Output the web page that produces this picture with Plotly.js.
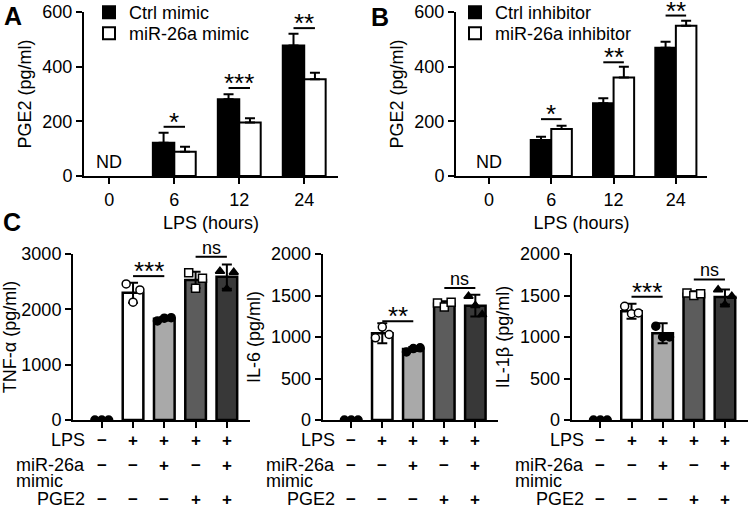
<!DOCTYPE html>
<html>
<head>
<meta charset="utf-8">
<script src="https://cdn.plot.ly/plotly-3.0.1.min.js"></script>
<style>
  body { margin: 0; background: #fff; }
  #fig { width: 749px; height: 512px; }
</style>
</head>
<body>
<div id="fig"></div>
<script>
// panel A / B : PGE2 over LPS time
const hours = ["0", "6", "12", "24"];
const ctrlMimic = [null, 122, 281, 477];
const ctrlMimicErr = [0, 36, 18, 43];
const mirMimic = [null, 89, 196, 354];
const mirMimicErr = [0, 18, 15, 24];
const ctrlInh = [null, 132, 266, 469];
const ctrlInhErr = [0, 12, 18, 22];
const mirInh = [null, 172, 360, 550];
const mirInhErr = [0, 12, 40, 18];

// significance marks (category index, level, text)
const sigAIdx = [1, 2, 3];
const sigAY = [180, 322, 541];
const sigAText = ["*", "***", "**"];
const sigBIdx = [1, 2, 3];
const sigBY = [208, 416, 587];
const sigBText = ["*", "**", "**"];

// panel C : cytokines, 5 groups
const lpsRow = ["−", "+", "+", "+", "+"];
const mimicRow = ["−", "−", "+", "−", "+"];
const pge2Row = ["−", "−", "−", "+", "+"];

const tnfMean = [0, 2300, 1830, 2530, 2590];
const tnfSd = [0, 180, 30, 150, 220];
const tnfPts = [[0, 0, 0], [2460, 2130, 2350], [1790, 1840, 1850], [2660, 2380, 2560], [2690, 2370, 2670]];
const il6Mean = [0, 1045, 855, 1400, 1378];
const il6Sd = [0, 120, 25, 30, 130];
const il6Pts = [[0, 0, 0], [990, 1120, 1030], [820, 860, 870], [1410, 1360, 1420], [1490, 1380, 1270]];
const il1Mean = [0, 1310, 1045, 1520, 1482];
const il1Sd = [0, 90, 120, 30, 90];
const il1Pts = [[0, 0, 0], [1370, 1280, 1290], [1130, 1000, 1000], [1530, 1500, 1520], [1570, 1390, 1490]];

const sigC1 = [2600, 2950];
const sigC2 = [1190, 1590];
const sigC3 = [1485, 1693];
const sigCText1 = ["***", "ns"];
const sigCText2 = ["**", "ns"];
const sigCText3 = ["***", "ns"];

const FONT = "Liberation Sans, Arial, sans-serif";
const W = 749, H = 512;
const px = (v) => v / W;
const py = (v) => 1 - v / H;

const barFill = ["#ffffff", "#a9a9a9", "#5c5c5c", "#383838"];
const ptSymbol = ["circle", "circle", "circle", "square", "triangle-up"];
const ptColor = ["#000", "#fff", "#000", "#fff", "#000"];
const jitter = [-0.22, 0, 0.22];
const halfBar = 0.165;

let traces = [];
let shapes = [];
let annotations = [];

function txt(size) {
	return { family: FONT, size: size, color: "#000" };
}

function barTrace(y, err, name, fill, xa, ya, legend) {
	return {
		type: "bar",
		x: hours.map((h, i) => i),
		y: y,
		name: name,
		xaxis: xa,
		yaxis: ya,
		legend: legend,
		marker: { color: fill, line: { color: "#000", width: 2 } },
		error_y: {
			type: "data",
			symmetric: false,
			array: err,
			arrayminus: err.map(() => 0),
			color: "#000",
			thickness: 2,
			width: 5,
		},
	};
}

traces.push(barTrace(ctrlMimic, ctrlMimicErr, "Ctrl mimic", "#000", "x", "y", "legend"));
traces.push(barTrace(mirMimic, mirMimicErr, "miR-26a mimic", "#fff", "x", "y", "legend2"));
traces.push(barTrace(ctrlInh, ctrlInhErr, "Ctrl inhibitor", "#000", "x2", "y2", "legend3"));
traces.push(barTrace(mirInh, mirInhErr, "miR-26a inhibitor", "#fff", "x2", "y2", "legend4"));

function addSig(idx, lev, labels, xref, yref, x0off, x1off) {
	idx.forEach((c, k) => {
		shapes.push({
			type: "line", xref: xref, yref: yref,
			x0: c + x0off, x1: c + x1off, y0: lev[k], y1: lev[k],
			line: { color: "#000", width: 2 },
		});
		const isNs = labels[k] === "ns";
		annotations.push({
			xref: xref, yref: yref, x: c + (x0off + x1off) / 2, y: lev[k],
			text: labels[k], showarrow: false, xanchor: "center", yanchor: "bottom",
			yshift: isNs ? -2 : -11, borderpad: 0,
			font: txt(isNs ? 18 : 26),
		});
	});
}
addSig(sigAIdx, sigAY, sigAText, "x", "y", -halfBar, halfBar);
addSig(sigBIdx, sigBY, sigBText, "x2", "y2", -halfBar, halfBar);

["x", "x2"].forEach((xa, k) => {
	annotations.push({
		xref: xa, yref: k ? "y2" : "y", x: 0, y: 0, text: "ND",
		showarrow: false, xanchor: "center", yanchor: "bottom", yshift: 2,
		font: txt(18),
	});
});

// panel C
function cPanel(mean, sd, pts, sigLev, sigTxt, xa, ya) {
	let idx = mean.map((m, i) => i);
	traces.push({
		type: "bar", x: idx, y: mean, xaxis: xa, yaxis: ya, showlegend: false,
		marker: {
			color: ["#fff"].concat(barFill),
			line: { color: "#000", width: mean.map((m, i) => (i ? 2.5 : 0)) },
		},
		error_y: { type: "data", array: sd, color: "#000", thickness: 2, width: 5 },
	});
	let xs = [], ys = [], sym = [], col = [];
	pts.forEach((g, i) => {
		g.forEach((v, j) => {
			xs.push(i + jitter[j]);
			ys.push(v);
			sym.push(ptSymbol[i]);
			col.push(ptColor[i]);
		});
	});
	traces.push({
		type: "scatter", mode: "markers", x: xs, y: ys, xaxis: xa, yaxis: ya,
		showlegend: false,
		marker: { symbol: sym, color: col, size: 8, line: { color: "#000", width: 1.5 } },
	});
	addSig([1, 3], sigLev, sigTxt, xa, ya, 0, 1);
	// table of treatments under the axis
	const rows = [[lpsRow, 440], [mimicRow, 465], [pge2Row, 499]];
	rows.forEach(([row, yy]) => {
		row.forEach((s, i) => {
			annotations.push({
				xref: xa, yref: "paper", x: i, y: py(yy), text: "<b>" + s + "</b>",
				showarrow: false, xanchor: "center", yanchor: "middle",
				font: txt(17),
			});
		});
	});
	const labels = [["LPS", 440, 0], ["miR-26a", 465, 0], ["mimic", 481, -22], ["PGE2", 499, 0]];
	labels.forEach(([t, yy, sh]) => {
		annotations.push({
			xref: xa, yref: "paper", x: -0.5, y: py(yy), text: t,
			xanchor: "right", yanchor: "middle", xshift: sh, borderpad: 0,
			showarrow: false, font: txt(18),
		});
	});
}
cPanel(tnfMean, tnfSd, tnfPts, sigC1, sigCText1, "x3", "y3");
cPanel(il6Mean, il6Sd, il6Pts, sigC2, sigCText2, "x4", "y4");
cPanel(il1Mean, il1Sd, il1Pts, sigC3, sigCText3, "x5", "y5");

[["A", 13, 16], ["B", 380, 17], ["C", 12, 222]].forEach(([t, x, y]) => {
	annotations.push({
		xref: "paper", yref: "paper", x: px(x), y: py(y), text: "<b>" + t + "</b>",
		xanchor: "center", yanchor: "middle",
		showarrow: false, font: txt(25),
	});
});

const tickFont = txt(18);
function xAxis(dom, range, opts) {
	return Object.assign({
		domain: [px(dom[0]), px(dom[1])], range: range,
		showline: true, linecolor: "#000", linewidth: 2,
		ticks: "outside", ticklen: 6, tickwidth: 2, tickcolor: "#000",
		showgrid: false, zeroline: false, tickfont: tickFont, fixedrange: true,
	}, opts);
}
function yAxis(dom, range, dtick, title, anchor) {
	return {
		domain: [py(dom[1]), py(dom[0])], range: range, dtick: dtick, anchor: anchor,
		showline: true, linecolor: "#000", linewidth: 2,
		ticks: "outside", ticklen: 6, tickwidth: 2, tickcolor: "#000",
		showgrid: false, zeroline: false, tickfont: tickFont,
		title: { text: title, font: txt(18), standoff: 6 },
	};
}
const hourTicks = {
	tickvals: hours.map((h, i) => i), ticktext: hours,
	title: { text: "LPS (hours)", font: txt(18), standoff: 8 },
};
const cTicks = { tickvals: [0, 1, 2, 3, 4], showticklabels: false };

function legendAt(x, top) {
	return {
		x: px(x), y: py(top), xanchor: "left", yanchor: "top",
		bgcolor: "rgba(0,0,0,0)", font: txt(18), itemclick: false,
	};
}

const layout = {
	width: W, height: H,
	margin: { l: 0, r: 0, t: 0, b: 0, autoexpand: false },
	paper_bgcolor: "#fff", plot_bgcolor: "rgba(0,0,0,0)",
	barmode: "group", bargap: 0.34, bargroupgap: 0,
	font: txt(18),
	xaxis: xAxis([84, 338], [-0.39, 3.52], Object.assign({ anchor: "y" }, hourTicks)),
	yaxis: yAxis([12, 176], [0, 600], 200, "PGE2 (pg/ml)", "x"),
	xaxis2: xAxis([456, 707], [-0.53, 3.5], Object.assign({ anchor: "y2" }, hourTicks)),
	yaxis2: yAxis([12, 176], [0, 600], 200, "PGE2 (pg/ml)", "x2"),
	xaxis3: xAxis([73, 250], [-0.92, 4.74], Object.assign({ anchor: "y3" }, cTicks)),
	yaxis3: yAxis([254, 420], [0, 3000], 1000, "TNF-α (pg/ml)", "x3"),
	xaxis4: xAxis([322.7, 498.3], [-0.92, 4.74], Object.assign({ anchor: "y4" }, cTicks)),
	yaxis4: yAxis([254, 420], [0, 2000], 500, "IL-6 (pg/ml)", "x4"),
	xaxis5: xAxis([571.7, 748], [-0.92, 4.74], Object.assign({ anchor: "y5" }, cTicks)),
	yaxis5: yAxis([254, 420], [0, 2000], 500, "IL-1β (pg/ml)", "x5"),
	legend: legendAt(89, -6),
	legend2: legendAt(89, 15),
	legend3: legendAt(455, -6),
	legend4: legendAt(455, 15),
	shapes: shapes,
	annotations: annotations,
	showlegend: true,
};

Plotly.newPlot("fig", traces, layout, { staticPlot: true, displayModeBar: false });
</script>
</body>
</html>
